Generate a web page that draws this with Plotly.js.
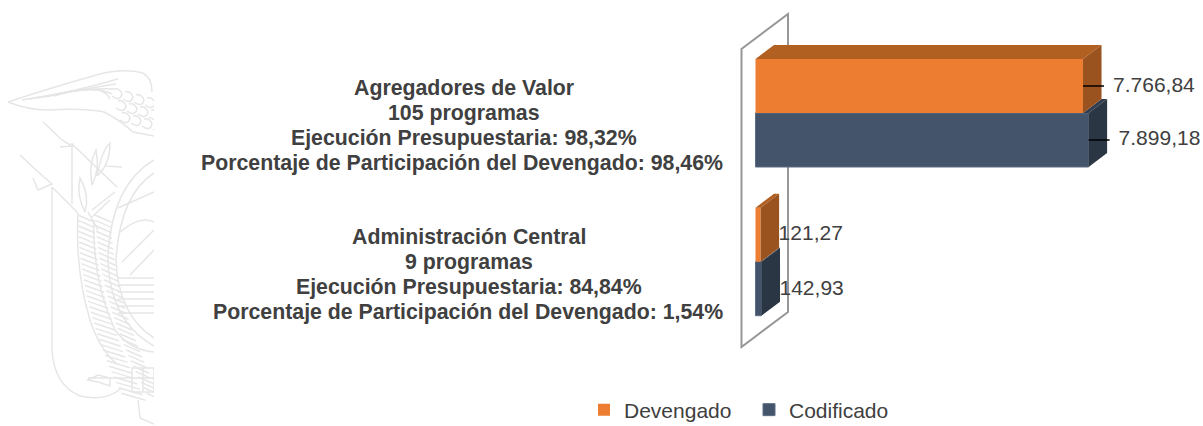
<!DOCTYPE html>
<html><head><meta charset="utf-8">
<script src="https://cdn.plot.ly/plotly-3.0.1.min.js"></script>
<style>html,body{margin:0;padding:0;background:#fff}#chart{width:1203px;height:426px}</style>
</head><body><div id="chart"></div>
<script>
// ---- data ----
const categoryPositions = [0, 1];
const devengado = [121.27, 7766.84];
const codificado = [142.93, 7899.18];
const devengadoLabels = ['121,27', '7.766,84'];
const codificadoLabels = ['142,93', '7.899,18'];
const titleLines = ['Administración Central', 'Agregadores de Valor'];
const programLines = ['9 programas', '105 programas'];
const executionLines = ['Ejecución Presupuestaria: 84,84%', 'Ejecución Presupuestaria: 98,32%'];
const shareLines = ['Porcentaje de Participación del Devengado: 1,54%', 'Porcentaje de Participación del Devengado: 98,46%'];

// ---- page geometry: the plot area fills the page, so pixels map to data linearly ----
const W = 1203, H = 426;
const PX_PER_UNIT = 0.04217, PX_PER_CAT = 148.7;
const X0 = 755.5, Y0 = 261.7;               // pixel position of value 0 / category 0
const dataX = p => (p - X0) / PX_PER_UNIT;
const dataY = p => (Y0 - p) / PX_PER_CAT;
const depthX = 18.5 / PX_PER_UNIT, depthY = 14 / PX_PER_CAT;
const barH = 54 / PX_PER_CAT;
const FONT = '"Liberation Sans", Arial, sans-serif';
const TXT = '#404040';

function topFace(from, v, yTop, color) {
  return {x: [from, v, v + depthX, from + depthX, from], y: [yTop, yTop, yTop + depthY, yTop + depthY, yTop],
    mode: 'lines', fill: 'toself', fillcolor: color, line: {width: 0, color: color}, showlegend: false, hoverinfo: 'skip', type: 'scatter'};
}
function sideFace(v, yTop, yBot, color) {
  return {x: [v, v + depthX, v + depthX, v, v], y: [yTop, yTop + depthY, yBot + depthY, yBot, yTop],
    mode: 'lines', fill: 'toself', fillcolor: color, line: {width: 0, color: color}, showlegend: false, hoverinfo: 'skip', type: 'scatter'};
}

const traces = [
  {type: 'bar', orientation: 'h', name: 'Codificado', legendrank: 2, y: categoryPositions, x: codificado,
   marker: {color: '#44546a', line: {color: '#5d6d84', width: 1}}, hoverinfo: 'skip'},
  {type: 'bar', orientation: 'h', name: 'Devengado', legendrank: 1, y: categoryPositions, x: devengado,
   marker: {color: '#ed7d31', line: {color: '#ed7d31', width: 0}}, hoverinfo: 'skip'}
];
categoryPositions.forEach((c, i) => {
  traces.push(topFace(devengado[i], codificado[i], c, '#323e4f'));
  traces.push(sideFace(codificado[i], c, c - barH, '#2b3645'));
  traces.push(topFace(0, devengado[i], c + barH, '#b25f22'));
  traces.push(sideFace(devengado[i], c + barH, c, '#9a521e'));
});
// leader lines (only the long bars have them)
const leaderLen = 21 / PX_PER_UNIT, cat = categoryPositions[1];
[[devengado[1], cat + barH / 2], [codificado[1], cat - barH / 2]].forEach(p => {
  traces.push({type: 'scatter', mode: 'lines', x: [p[0], p[0] + leaderLen], y: [p[1], p[1]],
    line: {color: '#000', width: 1.5}, showlegend: false, hoverinfo: 'skip'});
});
// value labels
const labelGap = [18 / PX_PER_UNIT, 30 / PX_PER_UNIT];
const devLift = [0, 1], codLift = [1, 0];
traces.push({type: 'scatter', mode: 'text', showlegend: false, hoverinfo: 'skip', textposition: 'middle right',
  x: devengado.map((v, i) => v + labelGap[i]), y: categoryPositions.map((c, i) => c + barH / 2 - devLift[i] / PX_PER_CAT),
  text: devengadoLabels, textfont: {family: FONT, size: 21, color: TXT}, cliponaxis: false});
traces.push({type: 'scatter', mode: 'text', showlegend: false, hoverinfo: 'skip', textposition: 'middle right',
  x: codificado.map((v, i) => v + labelGap[i]), y: categoryPositions.map((c, i) => c - barH / 2 - codLift[i] / PX_PER_CAT),
  text: codificadoLabels, textfont: {family: FONT, size: 21, color: TXT}, cliponaxis: false});

// bold category texts
const annotations = [];
const centres = [468.5, 463.5], LINE = 24.9;
categoryPositions.forEach((c, i) => {
  const yMid = Y0 - c * PX_PER_CAT + 12.7;
  [titleLines[i], programLines[i], executionLines[i]].forEach((t, k) => {
    annotations.push({text: '<b>' + t + '</b>', xref: 'x', yref: 'y', x: dataX(centres[i]), y: dataY(yMid + (k - 1.5) * LINE),
      xanchor: 'center', yanchor: 'middle', showarrow: false, font: {family: FONT, size: 21.3, color: TXT}});
  });
  annotations.push({text: '<b>' + shareLines[i] + '</b>', xref: 'x', yref: 'y', x: dataX(724.5), y: dataY(yMid + 1.5 * LINE),
    xanchor: 'right', yanchor: 'middle', showarrow: false, font: {family: FONT, size: 21.3, color: TXT}});
});

// chart wall, behind the bars
const wx0 = dataX(741.5), wx1 = dataX(788);
const wall = `M${wx0},${dataY(347)} L${wx0},${dataY(49)} L${wx1},${dataY(14)} L${wx1},${dataY(312)} Z`;

// faint emblem behind everything (page decoration, in page pixels)
let hatch = '';
for (let t = 0; t < 34; t++) {
  const y = 215 + t * 5.4, x1 = 78 + Math.pow(t / 34, 2) * 46, x2 = x1 + 16 + t * 0.25;
  hatch += `<path d="M${x1} ${y} L${x2} ${y + 7}"/><path d="M${x2 + 1} ${y} L${x2 + 17} ${y + 7}"/>`;
}
let water = '';
for (let t = 0; t < 6; t++) water += `<path d="M118 ${278 + t * 7} H154"/>`;
let feathers = '';
for (let t = 0; t < 5; t++) feathers += `<path d="M${22 + t * 8} ${100 - t * 1} Q${70 + t * 8} ${93 - t * 3} ${118 - t * 2} ${79 + t * 5}"/>`;
for (let t = 0; t < 12; t++) feathers += `<path d="M${112 + (t % 4) * 10 + t} ${96 + t * 3} q8 6 10 -2 q-2 -6 -8 -5"/>`;
const emblem = `<svg xmlns="http://www.w3.org/2000/svg" width="${W}" height="${H}" viewBox="0 0 ${W} ${H}">
<defs><clipPath id="c"><rect x="0" y="60" width="154" height="366"/></clipPath></defs>
<g clip-path="url(#c)" fill="none" stroke="#e6e6e6" stroke-width="1.5">
<path d="M8 102 Q50 88 100 74 Q125 68 143 73 Q152 78 152 92"/>
<path d="M8 102 Q28 110 48 110 Q85 108 104 112 Q120 120 133 132 L154 136"/>
${feathers}
<path d="M43 122 L62 140 L72 146 L60 147 M72 143 V204 M72 144 L117 187"/>
<path d="M20 155 L36 170 L52 184 L38 190 L33 178 M52 187 L78 213"/>
<path d="M52 187 V350 Q54 385 80 396 Q105 402 122 388"/>
<path d="M78 213 Q75 270 90 320 Q100 350 117 364 M94 220 Q92 280 115 330 Q130 350 154 352"/>
${hatch}
<path d="M154 160 Q112 185 108 255 Q108 320 154 346"/>
<path d="M154 173 Q120 195 116 260 Q118 315 154 338"/>
<path d="M97 176 Q102 150 110 143 Q110 165 97 176 M106 166 L122 167 M92 185 Q88 165 96 150 Q100 170 92 185 M85 212 Q76 195 80 178 Q90 195 85 212 M92 210 L115 192 M92 217 L110 200 M98 230 L88 212"/>
<path d="M118 208 L154 192 M120 232 Q140 215 154 222 M122 262 L154 230 M130 275 L154 250"/>
${water}
<path d="M88 378 H154 M88 380 L98 375 L110 378 L110 386 L98 382 Z M132 368 H154 V392 H132 Z M143 368 V392 M138 400 L140 418 M140 418 L154 424"/>
</g></svg>`;

const layout = {
  width: W, height: H, margin: {l: 0, r: 0, t: 0, b: 0, pad: 0, autoexpand: false},
  paper_bgcolor: '#fff', plot_bgcolor: 'rgba(0,0,0,0)',
  barmode: 'group', bargap: 1 - 2 * barH, bargroupgap: 0,
  xaxis: {range: [dataX(0), dataX(W)], visible: false, fixedrange: true},
  yaxis: {range: [dataY(H), dataY(0)], visible: false, fixedrange: true},
  shapes: [{type: 'path', path: wall, xref: 'x', yref: 'y', layer: 'below', line: {color: '#979797', width: 2}, fillcolor: 'rgba(0,0,0,0)'}],
  images: [{source: 'data:image/svg+xml,' + encodeURIComponent(emblem), xref: 'paper', yref: 'paper', x: 0, y: 1, sizex: 1, sizey: 1,
    xanchor: 'left', yanchor: 'top', sizing: 'stretch', layer: 'below'}],
  annotations: annotations,
  legend: {orientation: 'h', x: 584 / W, xanchor: 'left', y: 1 - 410 / H, yanchor: 'middle', font: {family: FONT, size: 21, color: TXT},
    entrywidth: 120, entrywidthmode: 'pixels', bgcolor: 'rgba(0,0,0,0)'},
  hovermode: false, showlegend: true
};
Plotly.newPlot('chart', traces, layout, {displayModeBar: false, staticPlot: true});
</script></body></html>
